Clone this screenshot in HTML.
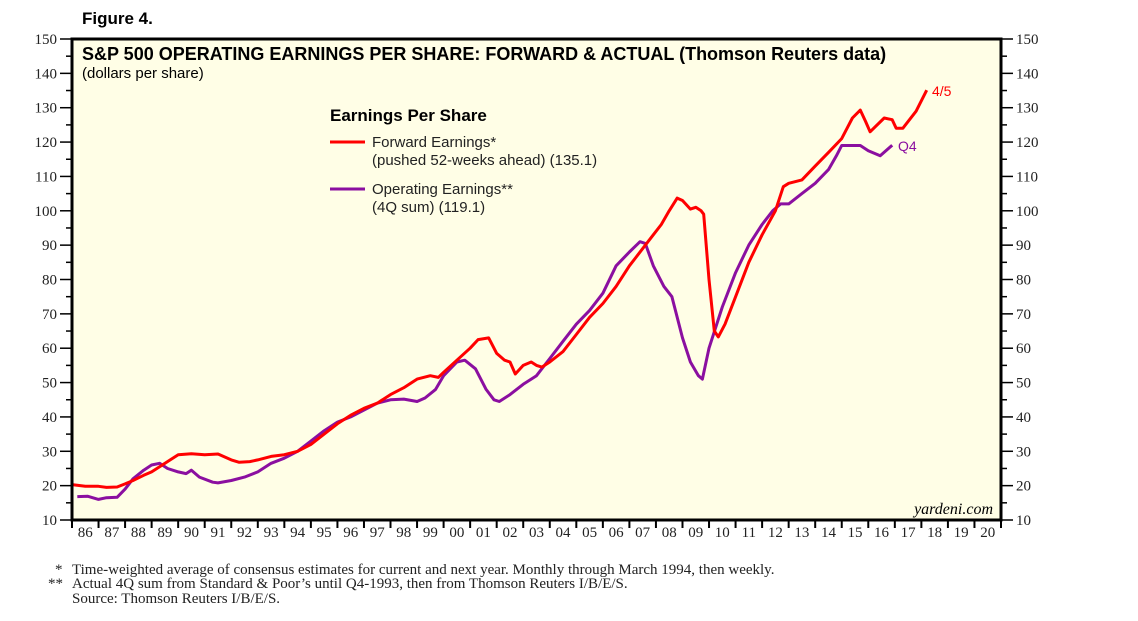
<!DOCTYPE html>
<html><head><meta charset="utf-8"><style>
body{margin:0;background:#fff;width:1138px;height:621px;overflow:hidden}
svg{display:block}
.sans{font-family:"Liberation Sans",sans-serif}
.serif{font-family:"Liberation Serif",serif}
</style></head><body>
<svg id="chart" width="1138" height="621" viewBox="0 0 1138 621">
<text x="82" y="24" class="sans" font-size="17" font-weight="bold">Figure 4.</text>
<rect x="72" y="39" width="929" height="481" fill="#fffee6"/>
<g id="axes"></g>
<g id="series"></g>
<rect x="72" y="39" width="929" height="481" fill="none" stroke="#000" stroke-width="3"/>
<text x="82" y="60" class="sans" font-size="18" font-weight="bold">S&amp;P 500 OPERATING EARNINGS PER SHARE: FORWARD &amp; ACTUAL (Thomson Reuters data)</text>
<text x="82" y="78" class="sans" font-size="15">(dollars per share)</text>
<g>
<text x="330" y="121" class="sans" font-size="17" font-weight="bold">Earnings Per Share</text>
<line x1="330" y1="142" x2="365" y2="142" stroke="#ff0000" stroke-width="3"/>
<text x="372" y="147" class="sans" font-size="15" fill="#222">Forward Earnings*</text>
<text x="372" y="165" class="sans" font-size="15" fill="#222">(pushed 52-weeks ahead) (135.1)</text>
<line x1="330" y1="189" x2="365" y2="189" stroke="#8b0fa0" stroke-width="3"/>
<text x="372" y="194" class="sans" font-size="15" fill="#222">Operating Earnings**</text>
<text x="372" y="212" class="sans" font-size="15" fill="#222">(4Q sum) (119.1)</text>
</g>
<text x="932" y="96" class="sans" font-size="14" fill="#ff0000">4/5</text>
<text x="898" y="151" class="sans" font-size="14" fill="#8b0fa0">Q4</text>
<text x="993" y="514" text-anchor="end" class="serif" font-size="16" font-style="italic">yardeni.com</text>
<g class="serif" font-size="15" fill="#222">
<text x="55" y="574">*</text>
<text x="72" y="574">Time-weighted average of consensus estimates for current and next year. Monthly through March 1994, then weekly.</text>
<text x="48" y="588">**</text>
<text x="72" y="588">Actual 4Q sum from Standard &amp; Poor’s until Q4-1993, then from Thomson Reuters I/B/E/S.</text>
<text x="72" y="603">Source: Thomson Reuters I/B/E/S.</text>
</g>
</svg>
<script>
const yTicks=[10,20,30,40,50,60,70,80,90,100,110,120,130,140,150];
const yearLabels=["86","87","88","89","90","91","92","93","94","95","96","97","98","99","00","01","02","03","04","05","06","07","08","09","10","11","12","13","14","15","16","17","18","19","20"];
const fwdYears=[1986.0,1986.5,1987.0,1987.3,1987.7,1988.0,1988.3,1988.7,1989.0,1989.3,1989.7,1990.0,1990.5,1991.0,1991.5,1992.0,1992.3,1992.7,1993.0,1993.5,1994.0,1994.5,1995.0,1995.5,1996.0,1996.5,1997.0,1997.5,1998.0,1998.5,1999.0,1999.5,1999.8,2000.0,2000.5,2001.0,2001.3,2001.7,2002.0,2002.3,2002.5,2002.7,2003.0,2003.3,2003.5,2003.7,2004.0,2004.5,2005.0,2005.5,2006.0,2006.5,2007.0,2007.5,2007.9,2008.2,2008.5,2008.8,2009.0,2009.3,2009.5,2009.7,2009.8,2010.0,2010.2,2010.35,2010.6,2011.0,2011.5,2012.0,2012.5,2012.8,2013.0,2013.5,2014.0,2014.5,2015.0,2015.4,2015.7,2015.9,2016.07,2016.6,2016.9,2017.05,2017.3,2017.8,2018.2];
const fwdValues=[20.3,19.8,19.8,19.5,19.6,20.5,21.5,23,24,25.5,27.5,29,29.3,29,29.2,27.5,26.8,27,27.5,28.5,29,30,32,35,38,40.5,42.5,44,46.5,48.5,51,52,51.5,53,56.5,60,62.5,63,58.5,56.5,56,52.5,55,56,55,54.5,56,59,64,69,73,78,84,89,93,96,100,103.7,103,100.5,101,100,99,80,65,63.3,67,75,85,93,100,107,108,109,113,117,121,127,129.3,126,123,127,126.5,124,124,129,135.1];
const opYears=[1986.2,1986.6,1987.0,1987.3,1987.7,1988.0,1988.3,1988.7,1989.0,1989.3,1989.6,1990.0,1990.3,1990.5,1990.8,1991.3,1991.5,1992.0,1992.5,1993.0,1993.5,1994.0,1994.5,1995.0,1995.5,1996.0,1996.5,1997.0,1997.5,1998.0,1998.5,1999.0,1999.3,1999.7,2000.0,2000.5,2000.8,2001.2,2001.6,2001.9,2002.1,2002.5,2003.0,2003.5,2004.0,2004.5,2005.0,2005.5,2006.0,2006.5,2007.0,2007.4,2007.6,2007.9,2008.3,2008.6,2009.0,2009.3,2009.6,2009.75,2010.0,2010.5,2011.0,2011.5,2012.0,2012.4,2012.7,2013.0,2013.5,2014.0,2014.5,2014.8,2015.0,2015.7,2016.0,2016.45,2016.9];
const opValues=[16.8,16.9,16.0,16.5,16.6,19,22,24.5,26,26.5,25,24,23.5,24.5,22.5,21,20.8,21.5,22.5,24,26.5,28,30,33,36,38.5,40,42,44,45,45.2,44.5,45.5,48,52,56,56.5,54,48,45,44.5,46.5,49.5,52,57,62,67,71,76,84,88,91,90.5,84,78,75,63,56,52,51,60,72,82,90,96,100,102,102,105,108,112,116,119,119,117.5,116,119.1];

const NS="http://www.w3.org/2000/svg";
const L=72,R=1001,T=39,B=520,Y0=1986,Y1=2021,V0=10,V1=150;
const xs=y=>L+(y-Y0)/(Y1-Y0)*(R-L);
const ys=v=>B-(v-V0)/(V1-V0)*(B-T);
function mk(tag,attrs,parent){const e=document.createElementNS(NS,tag);for(const k in attrs)e.setAttribute(k,attrs[k]);parent.appendChild(e);return e;}
const axes=document.getElementById('axes');
yTicks.forEach((v,i)=>{
  const y=ys(v);
  const a=mk('line',{x1:60,y1:y,x2:L,y2:y,stroke:'#000','stroke-width':1.5},axes);
  
  
  const b=mk('line',{x1:R,y1:y,x2:R+12,y2:y,stroke:'#000','stroke-width':1.5},axes);
  
  
  const t1=mk('text',{x:57,y:y+5,'text-anchor':'end','font-family':'Liberation Serif,serif','font-size':15,fill:'#222'},axes);
  t1.textContent=v;
  
  
  const t2=mk('text',{x:1016,y:y+5,'font-family':'Liberation Serif,serif','font-size':15,fill:'#222'},axes);
  t2.textContent=v;
  
  
  if(i<yTicks.length-1){
    const ym=ys(v+5);
    const c=mk('line',{x1:66,y1:ym,x2:L,y2:ym,stroke:'#000','stroke-width':1.5},axes);
    
    
    const d=mk('line',{x1:R,y1:ym,x2:R+6,y2:ym,stroke:'#000','stroke-width':1.5},axes);
    
    
  }
});
yearLabels.forEach((lab,i)=>{
  const x=xs(Y0+i);
  const tk=mk('line',{x1:x,y1:B,x2:x,y2:B+8,stroke:'#000','stroke-width':2},axes);
  
  
  const t=mk('text',{x:xs(Y0+i+0.5),y:B+17,'text-anchor':'middle','font-family':'Liberation Serif,serif','font-size':15,fill:'#222'},axes);
  t.textContent=lab;
  
  
});
const endTick=mk('line',{x1:R,y1:B,x2:R,y2:B+8,stroke:'#000','stroke-width':2},axes);


const series=document.getElementById('series');
function line(xv,yv,color,name){
  const d=xv.map((x,i)=>(i?'L':'M')+xs(x).toFixed(1)+','+ys(yv[i]).toFixed(1)).join('');
  const p=mk('path',{d:d,fill:'none',stroke:color,'stroke-width':3,'stroke-linejoin':'round'},series);
  
  
}
line(opYears,opValues,'#8b0fa0','operating-earnings-line');
line(fwdYears,fwdValues,'#ff0000','forward-earnings-line');
</script>
</body></html>
